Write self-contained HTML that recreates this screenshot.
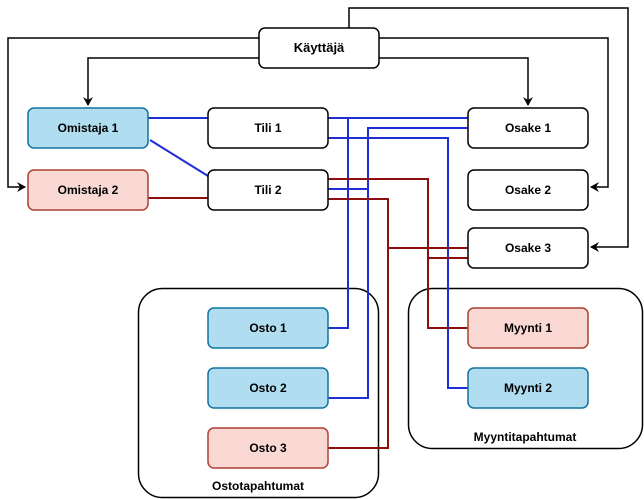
<!DOCTYPE html>
<html><head><meta charset="utf-8"><style>
body{margin:0;background:#fff;}
svg{display:block;font-family:"Liberation Sans",sans-serif;font-size:12px;}
</style></head><body>
<svg width="644" height="499" viewBox="0 0 644 499" xmlns="http://www.w3.org/2000/svg">
<defs><marker id="a" markerWidth="10" markerHeight="10" refX="8" refY="5" orient="auto" markerUnits="userSpaceOnUse"><path d="M0,0 L9,5 L0,10 L3,5 Z" fill="#000"/></marker></defs>
<g fill="none" stroke-width="2">
<rect x="138.5" y="288.5" width="240" height="209" rx="24" stroke="#000" stroke-width="1.5"/>
<rect x="408.5" y="288.5" width="234" height="160" rx="24" stroke="#000" stroke-width="1.5"/>
<g stroke="#000" stroke-width="1.5">
<path d="M259,38 H8 V187 H25" marker-end="url(#a)"/>
<path d="M259,58 H88 V105" marker-end="url(#a)"/>
<path d="M379,38 H608 V187 H591" marker-end="url(#a)"/>
<path d="M379,58 H528 V105" marker-end="url(#a)"/>
<path d="M349,28 V8 H628 V247 H591" marker-end="url(#a)"/>
</g>
<g stroke="#1f2ed6">
<path d="M148,118 H208"/>
<path d="M150,140 L208,176"/>
<path d="M328,118 H468"/>
<path d="M328,328 H348 V118"/>
<path d="M468,128 H368 V398 H328"/>
<path d="M328,189 H368"/>
<path d="M328,138 H448 V388 H468"/>
</g>
<g stroke="#8b0f0f">
<path d="M148,198 H208"/>
<path d="M328,179 H428 V328 H468"/>
<path d="M328,199 H388 V448 H328"/>
<path d="M388,248 H468"/>
<path d="M428,258 H468"/>
</g>
</g>
<g stroke-width="1.5">
<rect x="259" y="28" width="120" height="40" rx="6" fill="#fff" stroke="#000"/>
<rect x="28" y="108" width="120" height="40" rx="6" fill="#b1ddf0" stroke="#10739e"/>
<rect x="28" y="170" width="120" height="40" rx="6" fill="#fad9d5" stroke="#ae4132"/>
<rect x="208" y="108" width="120" height="40" rx="6" fill="#fff" stroke="#000"/>
<rect x="208" y="170" width="120" height="40" rx="6" fill="#fff" stroke="#000"/>
<rect x="468" y="108" width="120" height="40" rx="6" fill="#fff" stroke="#000"/>
<rect x="468" y="170" width="120" height="40" rx="6" fill="#fff" stroke="#000"/>
<rect x="468" y="228" width="120" height="40" rx="6" fill="#fff" stroke="#000"/>
<rect x="208" y="308" width="120" height="40" rx="6" fill="#b1ddf0" stroke="#10739e"/>
<rect x="208" y="368" width="120" height="40" rx="6" fill="#b1ddf0" stroke="#10739e"/>
<rect x="208" y="428" width="120" height="40" rx="6" fill="#fad9d5" stroke="#ae4132"/>
<rect x="468" y="308" width="120" height="40" rx="6" fill="#fad9d5" stroke="#ae4132"/>
<rect x="468" y="368" width="120" height="40" rx="6" fill="#b1ddf0" stroke="#10739e"/>
</g>
<g text-anchor="middle" font-weight="bold" fill="#000">
<text x="319" y="52" font-size="13">Käyttäjä</text>
<text x="88" y="132">Omistaja 1</text>
<text x="88" y="194">Omistaja 2</text>
<text x="268" y="132">Tili 1</text>
<text x="268" y="194">Tili 2</text>
<text x="528" y="132">Osake 1</text>
<text x="528" y="194">Osake 2</text>
<text x="528" y="252">Osake 3</text>
<text x="268" y="332">Osto 1</text>
<text x="268" y="392">Osto 2</text>
<text x="268" y="452">Osto 3</text>
<text x="528" y="332">Myynti 1</text>
<text x="528" y="392">Myynti 2</text>
<text x="258" y="490">Ostotapahtumat</text>
<text x="525" y="441">Myyntitapahtumat</text>
</g>
</svg>
</body></html>
